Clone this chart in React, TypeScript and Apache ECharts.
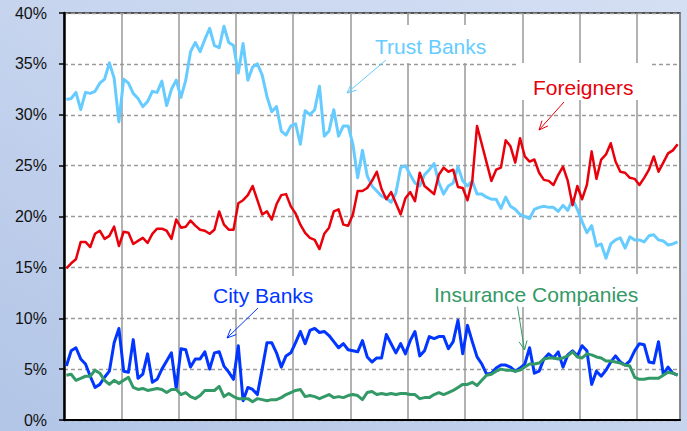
import React, { useEffect, useRef } from 'react';
import * as echarts from 'echarts';

// Monthly observations (129 months); vertical gridlines mark each 12-month block
const months: string[] = Array.from({ length: 129 }, (_, i) => `M${i + 1}`);

const trustBanks: number[] = [
  31.5, 31.6, 32.2, 30.5, 32.2, 32.1, 32.3, 33.1, 33.5, 35.1, 33.6, 29.3,
  33.5, 33.1, 32.1, 31.6, 30.8, 31.3, 32.3, 32.2, 33.3, 30.9, 32.5, 33.4,
  31.7, 33.4, 36.2, 37.1, 36.2, 37.4, 38.5, 36.8, 36.6, 38.7, 37.1, 36.8,
  34.1, 37.0, 33.4, 34.7, 35.0, 33.9, 31.8, 30.3, 30.8, 28.4, 28.0, 28.9,
  29.1, 27.1, 30.4, 30.0, 30.5, 32.8, 27.9, 28.4, 30.5, 27.9, 28.9, 28.9,
  27.1, 23.8, 26.5, 24.0, 23.0, 22.5, 22.0, 21.8, 21.4, 22.3, 24.8, 25.0,
  24.1, 23.3, 23.0, 24.1, 24.6, 25.2, 23.3, 22.2, 23.0, 23.3, 24.9, 23.5,
  23.0, 23.5, 22.2, 22.2, 21.9, 21.7, 21.7, 20.8, 21.9, 21.0, 20.7, 20.2,
  20.0, 19.8, 20.7, 20.9, 21.0, 20.9, 20.9, 20.5, 21.1, 20.6, 21.7, 20.7,
  19.5, 18.4, 19.1, 17.1, 17.3, 15.9, 17.3, 17.7, 17.9, 16.9, 18.0, 17.7,
  17.7, 17.5, 18.1, 18.2, 17.7, 17.6, 17.2, 17.3, 17.5,
];

const foreigners: number[] = [
  14.9, 15.4, 15.8, 17.5, 17.5, 17.0, 18.3, 18.6, 17.8, 18.1, 19.0, 17.1,
  18.5, 18.4, 17.3, 17.6, 17.9, 17.4, 18.3, 18.8, 18.8, 18.6, 17.8, 19.7,
  18.9, 19.0, 19.6, 19.1, 18.7, 18.6, 18.3, 18.7, 20.5, 19.2, 18.7, 18.7,
  21.3, 21.6, 22.1, 23.0, 21.6, 20.2, 20.5, 19.7, 21.2, 22.1, 22.2, 21.0,
  20.3, 19.2, 18.4, 17.9, 17.7, 16.8, 18.3, 18.9, 20.5, 20.7, 19.2, 19.1,
  20.2, 22.5, 22.5, 22.8, 23.5, 24.4, 22.7, 21.7, 22.4, 21.3, 20.2, 21.8,
  22.4, 21.5, 24.3, 23.0, 22.6, 22.2, 24.1, 24.8, 24.4, 24.6, 22.9, 22.8,
  21.6, 23.5, 28.9, 27.1, 25.3, 23.5, 24.6, 24.8, 27.5, 26.9, 25.3, 27.7,
  25.9, 25.4, 25.6, 24.3, 23.6, 23.5, 23.1, 24.1, 24.9, 23.5, 21.1, 23.0,
  21.7, 23.1, 26.4, 23.7, 25.6, 26.1, 27.2, 25.4, 24.4, 24.3, 23.8, 23.7,
  23.1, 23.8, 24.6, 25.9, 24.4, 25.3, 26.2, 26.5, 27.1,
];

const cityBanks: number[] = [
  5.3, 6.8, 7.1, 6.0, 5.5, 4.3, 3.2, 3.5, 4.2, 4.8, 7.6, 9.0,
  4.8, 4.7, 7.9, 4.1, 4.5, 6.5, 3.7, 4.0, 5.0, 5.8, 6.6, 3.1,
  7.0, 6.9, 5.2, 6.0, 6.0, 6.7, 5.0, 6.6, 6.7, 5.3, 4.7, 4.0,
  7.3, 1.9, 3.2, 3.0, 2.5, 5.0, 7.6, 7.6, 6.6, 5.2, 6.3, 6.6,
  7.6, 8.7, 7.5, 8.8, 9.0, 8.6, 8.7, 8.3, 7.7, 7.1, 7.5, 6.9,
  6.8, 6.7, 7.8, 6.2, 5.7, 6.1, 6.1, 8.4, 7.5, 6.6, 7.5, 6.5,
  7.8, 8.7, 6.3, 6.8, 8.2, 8.0, 8.2, 8.2, 7.0, 7.7, 9.8, 6.5,
  9.3, 7.7, 6.2, 5.5, 4.5, 4.6, 5.1, 5.4, 5.4, 5.2, 4.8, 5.1,
  5.5, 7.1, 4.6, 4.8, 6.0, 6.5, 6.1, 6.7, 5.2, 6.4, 6.8, 6.3,
  7.3, 6.8, 3.5, 4.8, 4.3, 4.9, 5.7, 6.3, 5.7, 5.4, 5.8, 6.8,
  7.5, 7.4, 5.7, 5.6, 7.7, 4.5, 5.2, 4.6, 4.4,
];

const insuranceCompanies: number[] = [
  4.4, 4.5, 3.9, 4.1, 4.3, 4.3, 4.9, 4.6, 3.9, 3.5, 3.9, 3.6,
  3.9, 4.2, 3.2, 3.0, 3.1, 2.9, 3.0, 3.1, 3.0, 2.7, 3.0, 3.0,
  2.5, 2.7, 2.3, 2.1, 2.4, 2.9, 2.9, 2.9, 3.3, 2.3, 2.6, 2.3,
  2.1, 2.1, 2.1, 1.8, 2.1, 2.0, 1.9, 2.0, 2.0, 2.2, 2.5, 2.7,
  2.9, 3.0, 2.3, 2.4, 2.3, 2.1, 2.3, 2.5, 2.2, 2.3, 2.2, 2.4,
  2.5, 2.4, 2.0, 2.7, 2.8, 2.5, 2.6, 2.5, 2.6, 2.5, 2.6, 2.6,
  2.5, 2.5, 2.1, 2.2, 2.2, 2.5, 2.7, 2.5, 2.7, 2.9, 3.2, 3.5,
  3.5, 3.7, 3.4, 3.9, 4.4, 4.5, 4.8, 5.0, 4.9, 4.9, 4.8, 4.9,
  5.2, 5.5, 5.5, 5.6, 6.0, 6.1, 6.1, 6.0, 6.1, 6.3, 6.7, 6.2,
  6.1, 6.5, 6.4, 6.2, 6.1, 5.8, 5.8, 5.7, 5.6, 5.4, 5.3, 4.2,
  4.0, 4.0, 4.1, 4.1, 4.1, 4.4, 4.7, 4.6, 4.4,
];

const yMin = 0;
const yMax = 40;
const yStep = 5;

const COLORS = {
  trust: '#66CCFF',
  foreign: '#E8000B',
  city: '#0036FF',
  insurance: '#339966',
};

const FONT = '"Liberation Sans", Arial, sans-serif';

function arrow(x1: number, y1: number, x2: number, y2: number, color: string) {
  const dx = x2 - x1;
  const dy = y2 - y1;
  const len = Math.hypot(dx, dy);
  const ux = dx / len;
  const uy = dy / len;
  const hl = 9;
  const hw = 4;
  const bx = x2 - ux * hl;
  const by = y2 - uy * hl;
  return [
    { type: 'line', z: 20, shape: { x1, y1, x2, y2 }, style: { stroke: color, lineWidth: 1 } },
    {
      type: 'polyline',
      z: 20,
      shape: { points: [[bx - uy * hw, by + ux * hw], [x2, y2], [bx + uy * hw, by - ux * hw]] },
      style: { stroke: color, lineWidth: 1, fill: null },
    },
  ];
}

function label(text: string, x: number, y: number, color: string, box: [number, number, number, number]) {
  return [
    { type: 'rect', z: 15, shape: { x: box[0], y: box[1], width: box[2], height: box[3] }, style: { fill: '#ffffff' } },
    {
      type: 'text',
      z: 21,
      x,
      y,
      style: {
        text,
        fill: color,
        font: `21px ${FONT}`,
        align: 'left',
        verticalAlign: 'middle',
        textAlign: 'left',
        textVerticalAlign: 'middle',
      },
    },
  ];
}

export default function App() {
  const ref = useRef<HTMLDivElement>(null);

  useEffect(() => {
    if (!ref.current) return;
    const chart = echarts.init(ref.current, null, { renderer: 'svg' });
    const mk = (name: string, data: number[], color: string, width: number) => ({
      name,
      type: 'line',
      data,
      symbol: 'none',
      showSymbol: false,
      smooth: false,
      lineStyle: { color, width, join: 'round' },
      itemStyle: { color },
    });
    chart.setOption({
      animation: false,
      backgroundColor: 'transparent',
      grid: {
        left: 64,
        right: 7,
        top: 13,
        bottom: 11,
        show: true,
        backgroundColor: '#ffffff',
        borderColor: '#222222',
        borderWidth: 1.5,
        containLabel: false,
        outerBoundsMode: 'none',
      },
      xAxis: {
        type: 'category',
        data: months,
        boundaryGap: true,
        axisLine: { show: true, lineStyle: { color: '#000', width: 2 } },
        axisTick: { show: false },
        axisLabel: { show: false },
        splitLine: { show: true, interval: 11, lineStyle: { color: '#999999', width: 1.5 } },
      },
      yAxis: {
        type: 'value',
        min: yMin,
        max: yMax,
        interval: yStep,
        axisLine: { show: true, lineStyle: { color: '#000', width: 2.5 } },
        axisTick: { show: true, inside: false, length: 5, lineStyle: { color: '#000', width: 1.5 } },
        axisLabel: {
          formatter: '{value}%',
          color: '#111',
          fontSize: 16,
          fontFamily: FONT,
          margin: 17,
        },
        splitLine: { show: true, lineStyle: { color: '#9a9a9a', width: 1.3, type: [4, 3] } },
      },
      series: [
        mk('Trust Banks', trustBanks, COLORS.trust, 3),
        mk('Foreigners', foreigners, COLORS.foreign, 2.5),
        mk('City Banks', cityBanks, COLORS.city, 3),
        mk('Insurance Companies', insuranceCompanies, COLORS.insurance, 3),
      ],
      graphic: [
        ...label('Trust Banks', 375, 46, COLORS.trust, [368, 25, 128, 38]),
        ...label('Foreigners', 533, 87, COLORS.foreign, [519, 63, 130, 37]),
        ...label('City Banks', 213, 295, COLORS.city, [205, 276, 118, 33]),
        ...label('Insurance Companies', 434, 294, COLORS.insurance, [427, 274, 224, 33]),
        ...arrow(386, 60, 347, 93, COLORS.trust),
        ...arrow(564, 102, 539, 130, COLORS.foreign),
        ...arrow(258, 308, 227, 338, COLORS.city),
        ...arrow(517.5, 306.5, 524.5, 350, COLORS.insurance),
      ],
    });
    return () => chart.dispose();
  }, []);

  return (
    <div
      ref={ref}
      style={{
        position: 'fixed',
        left: 0,
        top: 0,
        width: 687,
        height: 431,
        background: 'linear-gradient(to bottom left, #D4DFF3 0%, #C6D4EE 50%, #B2C5E6 100%)',
      }}
    />
  );
}
